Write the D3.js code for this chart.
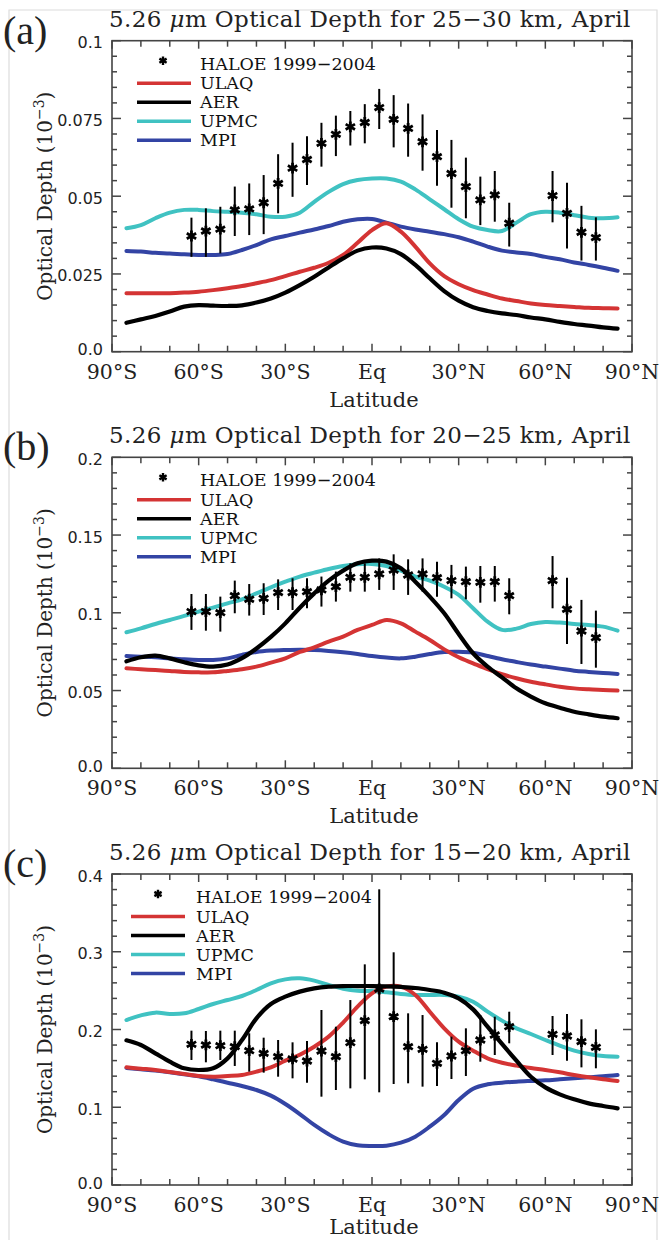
<!DOCTYPE html>
<html><head><meta charset="utf-8">
<script src="https://cdn.jsdelivr.net/npm/d3@7"></script>
<style>body{margin:0;background:#fff}svg{display:block}</style>
</head><body><svg id="chart" width="661" height="1240"></svg>
<script>
// ---------- shared categories ----------
const lat = [-85,-80,-75,-70,-65,-60,-55,-50,-45,-40,-35,-30,-25,-20,-15,-10,-5,0,5,10,15,20,25,30,35,40,45,50,55,60,65,70,75,80,85];
const haloeLat = [-62.5,-57.5,-52.5,-47.5,-42.5,-37.5,-32.5,-27.5,-22.5,-17.5,-12.5,-7.5,-2.5,2.5,7.5,12.5,17.5,22.5,27.5,32.5,37.5,42.5,47.5,62.5,67.5,72.5,77.5];
const xTickValues = [-90,-60,-30,0,30,60,90];
const xTickLabels = ["90°S","60°S","30°S","Eq","30°N","60°N","90°N"];
const panelLetters = ["(a)","(b)","(c)"];
const titleRanges = ["25\u221230","20\u221225","15\u221220"];
const legendNames = ["ULAQ","AER","UPMC","MPI"];
const haloeName = "HALOE 1999\u22122004";

// ---------- panel (a) 25-30 km ----------
const aYTicks = [0,0.025,0.05,0.075,0.1];
const aYLabels = ["0.0","0.025","0.05","0.075","0.1"];
const aULAQ = [0.0188,0.0188,0.0188,0.0188,0.0190,0.0193,0.0198,0.0204,0.0211,0.0220,0.0230,0.0243,0.0257,0.0270,0.0286,0.0311,0.0350,0.0391,0.0413,0.0386,0.0338,0.0284,0.0243,0.0217,0.0198,0.0184,0.0171,0.0163,0.0155,0.0150,0.0147,0.0144,0.0141,0.0140,0.0139];
const aAER  = [0.0093,0.0104,0.0115,0.0129,0.0145,0.0150,0.0148,0.0147,0.0149,0.0158,0.0171,0.0190,0.0214,0.0241,0.0271,0.0300,0.0325,0.0335,0.0332,0.0314,0.0279,0.0236,0.0195,0.0164,0.0143,0.0131,0.0123,0.0118,0.0110,0.0104,0.0096,0.0089,0.0084,0.0078,0.0074];
const aUPMC = [0.0397,0.0407,0.0429,0.0447,0.0456,0.0456,0.0452,0.0450,0.0447,0.0442,0.0434,0.0434,0.0447,0.0482,0.0514,0.0539,0.0552,0.0557,0.0557,0.0547,0.0522,0.0490,0.0458,0.0426,0.0402,0.0391,0.0388,0.0415,0.0442,0.0450,0.0447,0.0439,0.0431,0.0429,0.0432];
const aMPI  = [0.0324,0.0322,0.0318,0.0316,0.0313,0.0311,0.0311,0.0314,0.0327,0.0343,0.0361,0.0372,0.0383,0.0393,0.0404,0.0418,0.0426,0.0427,0.0415,0.0402,0.0393,0.0386,0.0378,0.0368,0.0354,0.0338,0.0325,0.0319,0.0314,0.0305,0.0297,0.0287,0.0279,0.0270,0.0260];
const aHaloe   = [0.0372,0.0388,0.0394,0.0456,0.0459,0.0479,0.0541,0.0590,0.0618,0.0670,0.0699,0.0723,0.0737,0.0785,0.0747,0.0718,0.0675,0.0627,0.0573,0.0531,0.0488,0.0504,0.0413,0.0502,0.0445,0.0384,0.0367];
const aHaloeHi = [0.0431,0.0461,0.0466,0.0531,0.0541,0.0568,0.0635,0.0672,0.0693,0.0736,0.0759,0.0774,0.0796,0.0845,0.0825,0.0798,0.0763,0.0713,0.0681,0.0624,0.0563,0.0581,0.0479,0.0581,0.0543,0.0469,0.0432];
const aHaloeLo = [0.0305,0.0305,0.0316,0.0372,0.0375,0.0378,0.0445,0.0498,0.0536,0.0595,0.0629,0.0663,0.0670,0.0716,0.0657,0.0627,0.0582,0.0534,0.0463,0.0429,0.0407,0.0418,0.0338,0.0416,0.0332,0.0293,0.0293];

// ---------- panel (b) 20-25 km ----------
const bYTicks = [0,0.05,0.1,0.15,0.2];
const bYLabels = ["0.0","0.05","0.1","0.15","0.2"];
const bULAQ = [0.0643,0.0637,0.0632,0.0626,0.0620,0.0617,0.0617,0.0626,0.0637,0.0654,0.0680,0.0707,0.0748,0.0778,0.0815,0.0847,0.0890,0.0922,0.0954,0.0932,0.0879,0.0825,0.0765,0.0714,0.0675,0.0637,0.0605,0.0579,0.0557,0.0540,0.0525,0.0514,0.0508,0.0504,0.0500];
const bAER  = [0.0688,0.0714,0.0725,0.0707,0.0682,0.0662,0.0654,0.0667,0.0708,0.0770,0.0845,0.0932,0.1033,0.1125,0.1207,0.1271,0.1318,0.1335,0.1329,0.1286,0.1200,0.1104,0.0997,0.0864,0.0740,0.0654,0.0585,0.0514,0.0461,0.0418,0.0390,0.0364,0.0347,0.0332,0.0322];
const bUPMC = [0.0875,0.0900,0.0928,0.0954,0.0980,0.1008,0.1033,0.1061,0.1087,0.1125,0.1164,0.1200,0.1233,0.1258,0.1282,0.1301,0.1312,0.1314,0.1301,0.1271,0.1233,0.1207,0.1168,0.1115,0.1029,0.0943,0.0890,0.0898,0.0928,0.0941,0.0937,0.0928,0.0922,0.0911,0.0885];
const bMPI  = [0.0722,0.0718,0.0714,0.0707,0.0701,0.0697,0.0697,0.0707,0.0729,0.0748,0.0757,0.0761,0.0763,0.0761,0.0755,0.0746,0.0735,0.0722,0.0712,0.0707,0.0718,0.0735,0.0748,0.0750,0.0744,0.0722,0.0701,0.0684,0.0667,0.0654,0.0641,0.0628,0.0620,0.0613,0.0607];
const bHaloe   = [0.1008,0.1008,0.1001,0.1110,0.1087,0.1093,0.1130,0.1130,0.1136,0.1147,0.1168,0.1228,0.1228,0.1250,0.1275,0.1243,0.1250,0.1226,0.1207,0.1200,0.1196,0.1200,0.1110,0.1207,0.1023,0.0883,0.0840];
const bHaloeHi = [0.1121,0.1121,0.1104,0.1207,0.1185,0.1190,0.1215,0.1222,0.1222,0.1233,0.1265,0.1318,0.1318,0.1350,0.1376,0.1344,0.1350,0.1329,0.1308,0.1297,0.1301,0.1301,0.1222,0.1365,0.1226,0.1083,0.1014];
const bHaloeLo = [0.0890,0.0885,0.0879,0.0997,0.0982,0.0986,0.1018,0.1018,0.1029,0.1040,0.1072,0.1136,0.1136,0.1147,0.1147,0.1115,0.1136,0.1104,0.1093,0.1087,0.1065,0.1072,0.0990,0.1029,0.0800,0.0671,0.0647];

// ---------- panel (c) 15-20 km ----------
const cYTicks = [0,0.1,0.2,0.3,0.4];
const cYLabels = ["0.0","0.1","0.2","0.3","0.4"];
const cULAQ = [0.1513,0.1496,0.1479,0.1453,0.1428,0.1402,0.1393,0.1402,0.1415,0.1458,0.1513,0.1599,0.1676,0.1779,0.1908,0.2088,0.2294,0.2465,0.2551,0.2551,0.2444,0.2229,0.2015,0.1844,0.1728,0.1629,0.1573,0.1535,0.1505,0.1479,0.1449,0.1415,0.1385,0.1359,0.1338];
const cAER  = [0.1861,0.1801,0.1693,0.1586,0.1501,0.1479,0.1501,0.1629,0.1865,0.2144,0.2328,0.2422,0.2487,0.2529,0.2551,0.2559,0.2559,0.2559,0.2555,0.2547,0.2534,0.2508,0.2474,0.2401,0.2259,0.2036,0.1814,0.1599,0.1393,0.1256,0.1166,0.1102,0.1050,0.1016,0.0986];
const cUPMC = [0.2122,0.2182,0.2217,0.2199,0.2208,0.2264,0.2328,0.2379,0.2431,0.2508,0.2594,0.2645,0.2658,0.2628,0.2572,0.2525,0.2499,0.2495,0.2478,0.2457,0.2444,0.2444,0.2444,0.2422,0.2358,0.2229,0.2114,0.2015,0.1942,0.1865,0.1792,0.1728,0.1685,0.1659,0.1651];
const cMPI  = [0.1505,0.1488,0.1471,0.1449,0.1423,0.1398,0.1359,0.1316,0.1273,0.1222,0.1149,0.1042,0.0913,0.0772,0.0652,0.0557,0.0510,0.0502,0.0506,0.0544,0.0622,0.0750,0.0900,0.1093,0.1239,0.1295,0.1316,0.1329,0.1338,0.1346,0.1359,0.1372,0.1385,0.1398,0.1415];
const cHaloe   = [0.1809,0.1801,0.1792,0.1779,0.1728,0.1693,0.1651,0.1621,0.1595,0.1723,0.1651,0.1831,0.2114,0.2521,0.2165,0.1779,0.1745,0.1565,0.1659,0.1728,0.1865,0.1929,0.2036,0.1938,0.1916,0.1844,0.1771];
const cHaloeHi = [0.1985,0.1981,0.1985,0.1985,0.1951,0.1895,0.1865,0.1835,0.1852,0.2251,0.2036,0.2379,0.2838,0.3803,0.2993,0.2208,0.2186,0.1835,0.1908,0.2015,0.2186,0.2165,0.2229,0.2174,0.2199,0.2131,0.2002];
const cHaloeLo = [0.1608,0.1578,0.1608,0.1531,0.1458,0.1445,0.1393,0.1372,0.1316,0.1136,0.1222,0.1243,0.1359,0.1192,0.1299,0.1308,0.1265,0.1273,0.1363,0.1402,0.1586,0.1672,0.1822,0.1672,0.1599,0.1513,0.1501];

const modelColors = {ULAQ:"#d43434", AER:"#000000", UPMC:"#40c2c2", MPI:"#3344a4"};

const panels = [
  {top:40.7, ymax:0.1, yTicks:aYTicks, yLabels:aYLabels, models:{ULAQ:aULAQ,AER:aAER,UPMC:aUPMC,MPI:aMPI}, h:aHaloe, hi:aHaloeHi, lo:aHaloeLo},
  {top:457.3, ymax:0.2, yTicks:bYTicks, yLabels:bYLabels, models:{ULAQ:bULAQ,AER:bAER,UPMC:bUPMC,MPI:bMPI}, h:bHaloe, hi:bHaloeHi, lo:bHaloeLo},
  {top:874, ymax:0.4, yTicks:cYTicks, yLabels:cYLabels, models:{ULAQ:cULAQ,AER:cAER,UPMC:cUPMC,MPI:cMPI}, h:cHaloe, hi:cHaloeHi, lo:cHaloeLo}
];

const svg = d3.select("#chart");
const L = 112, R = 632, H = 311;
const serifFont = "'DejaVu Serif', serif";
const frameColor = "#444";
const textColor = "#222";

function starPath(r){
  let p = "";
  [90,30,150].forEach(a=>{
    const t = a*Math.PI/180, dx = r*Math.cos(t), dy = r*Math.sin(t);
    p += `M${-dx},${-dy}L${dx},${dy}`;
  });
  return p;
}

// faint figure border (scan edge)
svg.append("path").attr("d","M9,1240V10H657V1240").attr("fill","none").attr("stroke","#dcdcdc").attr("stroke-width",1.2);

panels.forEach((P,i)=>{
  const top = P.top, bottom = top + H;
  const x = d3.scaleLinear().domain([-90,90]).range([L,R]);
  const y = d3.scaleLinear().domain([0,P.ymax]).range([bottom,top]);
  const g = svg.append("g");

  // panel letter
  g.append("text").attr("x",3).attr("y",top+3).attr("font-family","'Liberation Serif', serif")
    .attr("font-size",40).attr("fill",textColor).text(panelLetters[i]);

  // title
  const t = g.append("text").attr("x",L-3).attr("y",top-14).attr("font-family",serifFont)
    .attr("font-size",23).attr("letter-spacing",0.4).attr("fill",textColor);
  t.append("tspan").text("5.26 ");
  t.append("tspan").attr("font-style","italic").text("\u03bc");
  t.append("tspan").text("m Optical Depth for " + titleRanges[i] + " km, April");

  // model lines
  const line = d3.line().x((d,k)=>x(lat[k])).y(d=>y(d)).curve(d3.curveCatmullRom.alpha(0.5));
  ["UPMC","MPI","ULAQ","AER"].forEach(name=>{
    g.append("path").datum(P.models[name]).attr("d",line).attr("fill","none")
      .attr("stroke",modelColors[name]).attr("stroke-width",name==="AER"?4.2:4)
      .attr("stroke-linejoin","round").attr("stroke-linecap","round");
  });

  // HALOE error bars and stars
  const eb = g.append("g");
  haloeLat.forEach((la,k)=>{
    eb.append("line").attr("x1",x(la)).attr("x2",x(la)).attr("y1",y(P.hi[k])).attr("y2",y(P.lo[k]))
      .attr("stroke","#000").attr("stroke-width",2);
    eb.append("path").attr("d",starPath(5.4)).attr("transform",`translate(${x(la)},${y(P.h[k])})`)
      .attr("stroke","#000").attr("stroke-width",2.8).attr("fill","none");
  });

  // frame
  g.append("rect").attr("x",L).attr("y",top).attr("width",R-L).attr("height",H)
    .attr("fill","none").attr("stroke",frameColor).attr("stroke-width",1.6);

  // x ticks (inward, bottom and top)
  const xMinor = x.ticks(18);
  xMinor.forEach(v=>{
    const len = xTickValues.includes(v) ? 8 : 6;
    g.append("line").attr("x1",x(v)).attr("x2",x(v)).attr("y1",bottom).attr("y2",bottom-len).attr("stroke",frameColor).attr("stroke-width",1.5);
    g.append("line").attr("x1",x(v)).attr("x2",x(v)).attr("y1",top).attr("y2",top+len).attr("stroke",frameColor).attr("stroke-width",1.5);
  });
  xTickValues.forEach((v,k)=>{
    g.append("text").attr("x",x(v)).attr("y",bottom+27).attr("text-anchor","middle")
      .attr("font-family",serifFont).attr("font-size",20.5).attr("fill",textColor).text(xTickLabels[k]);
  });
  g.append("text").attr("x",(L+R)/2+2).attr("y",Math.min(bottom+55,1234)).attr("text-anchor","middle")
    .attr("font-family",serifFont).attr("font-size",21).attr("fill",textColor).text("Latitude");

  // y ticks (inward, left and right)
  const yMinor = y.ticks(20);
  yMinor.forEach(v=>{
    const major = P.yTicks.some(m=>Math.abs(m-v)<1e-9);
    const len = major ? 9 : 5;
    g.append("line").attr("x1",L).attr("x2",L+len).attr("y1",y(v)).attr("y2",y(v)).attr("stroke",frameColor).attr("stroke-width",1.5);
    g.append("line").attr("x1",R).attr("x2",R-len).attr("y1",y(v)).attr("y2",y(v)).attr("stroke",frameColor).attr("stroke-width",1.5);
  });
  P.yTicks.forEach((v,k)=>{
    g.append("text").attr("x",L-9).attr("y",y(v)+(v===0?3.5:7.5)).attr("text-anchor","end")
      .attr("font-family","'DejaVu Sans', sans-serif").attr("font-size",16).attr("fill",textColor).text(P.yLabels[k]);
  });

  // y axis title
  const yt = g.append("text").attr("transform",`translate(52,${(top+bottom)/2}) rotate(-90)`)
    .attr("text-anchor","middle").attr("font-family",serifFont).attr("font-size",20).attr("fill",textColor);
  yt.append("tspan").text("Optical Depth (10");
  yt.append("tspan").attr("font-size",14).attr("dy",-8).text("\u22123");
  yt.append("tspan").attr("dy",8).text(")");

  // legend
  const lx = i===2 ? 131 : 137, tx = i===2 ? 196 : 200, sx = i===2 ? 158 : 163;
  const rows = [23,42.5,61.5,80.5,99.5].map(o=>top+o);
  g.append("path").attr("d",starPath(4.2)).attr("transform",`translate(${sx},${rows[0]-3})`)
    .attr("stroke","#000").attr("stroke-width",2.4).attr("fill","none");
  g.append("text").attr("x",tx).attr("y",rows[0]+6).attr("font-family",serifFont)
    .attr("font-size",17.5).attr("fill","#111").text(haloeName);
  legendNames.forEach((name,k)=>{
    const yy = rows[k+1];
    g.append("line").attr("x1",lx).attr("x2",lx+54).attr("y1",yy).attr("y2",yy)
      .attr("stroke",modelColors[name]).attr("stroke-width",3.6);
    g.append("text").attr("x",tx).attr("y",yy+6).attr("font-family",serifFont)
      .attr("font-size",17.5).attr("fill","#111").text(name);
  });
});
</script>
</body></html>
